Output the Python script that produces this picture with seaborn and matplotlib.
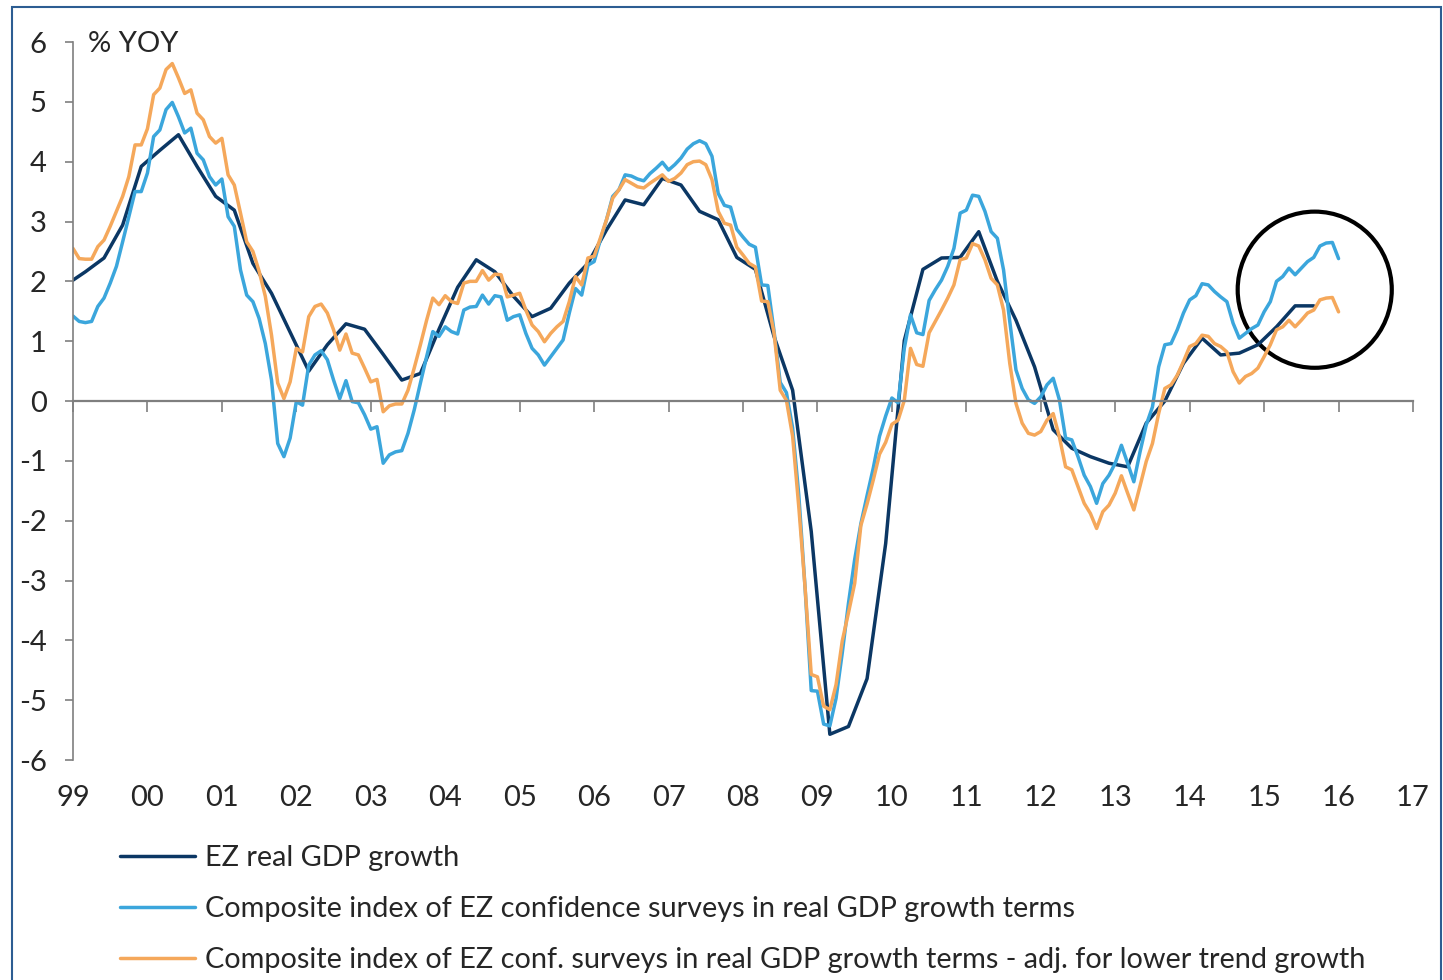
import numpy as np
import pandas as pd
import seaborn as sns
import matplotlib.pyplot as plt
from matplotlib.patches import Ellipse, Rectangle

# EZ real GDP growth, % yoy, quarterly (plotted at quarter-end month, Q4 1998 .. Q3 2015)
gdp_start = 1998 + 11 / 12
gdp_growth = [
    1.95,
    2.16, 2.39, 2.94, 3.92,
    4.19, 4.45, 3.92, 3.42,
    3.19, 2.30, 1.80, 1.15,
    0.50, 0.94, 1.29, 1.20,
    0.78, 0.35, 0.46, 1.20,
    1.90, 2.36, 2.16, 1.75,
    1.41, 1.55, 1.97, 2.30,
    2.86, 3.36, 3.28, 3.72,
    3.61, 3.17, 3.03, 2.40,
    2.20, 1.08, 0.18, -2.18,
    -5.57, -5.44, -4.64, -2.38,
    1.01, 2.20, 2.39, 2.40,
    2.83, 2.00, 1.35, 0.57,
    -0.48, -0.79, -0.93, -1.04,
    -1.10, -0.37, 0.00, 0.63,
    1.05, 0.77, 0.80, 0.94,
    1.24, 1.59, 1.59,
]

# composite survey indices, monthly Jan 1999 .. Jan 2016
survey_start = 1999.0
composite = [
    1.42, 1.33, 1.31, 1.33, 1.58, 1.72, 1.97, 2.25, 2.66, 3.08, 3.50, 3.50,
    3.81, 4.42, 4.53, 4.87, 4.99, 4.75, 4.48, 4.56, 4.14, 4.03, 3.75, 3.61,
    3.71, 3.08, 2.92, 2.19, 1.77, 1.66, 1.38, 0.96, 0.35, -0.71, -0.93, -0.62,
    -0.01, -0.07, 0.60, 0.77, 0.84, 0.69, 0.35, 0.04, 0.34, -0.01, -0.03, -0.23,
    -0.47, -0.43, -1.04, -0.90, -0.85, -0.83, -0.54, -0.15, 0.30, 0.74, 1.16, 1.08,
    1.24, 1.16, 1.12, 1.52, 1.57, 1.58, 1.77, 1.62, 1.76, 1.74, 1.35, 1.41,
    1.44, 1.13, 0.88, 0.77, 0.60, 0.74, 0.88, 1.02, 1.47, 1.88, 1.77, 2.27,
    2.33, 2.69, 3.03, 3.42, 3.53, 3.78, 3.76, 3.71, 3.68, 3.80, 3.89, 3.99,
    3.86, 3.95, 4.06, 4.21, 4.30, 4.35, 4.30, 4.09, 3.47, 3.27, 3.24, 2.87,
    2.74, 2.62, 2.57, 1.94, 1.93, 1.17, 0.31, 0.14, -0.45, -1.58, -3.11, -4.84,
    -4.85, -5.40, -5.43, -4.97, -4.21, -3.38, -2.65, -2.05, -1.58, -1.12, -0.59, -0.25,
    0.05, -0.03, 0.88, 1.44, 1.14, 1.11, 1.68, 1.86, 2.02, 2.25, 2.55, 3.14,
    3.19, 3.44, 3.42, 3.17, 2.83, 2.72, 2.19, 1.33, 0.52, 0.21, 0.02, -0.04,
    0.07, 0.27, 0.38, 0.02, -0.62, -0.65, -0.93, -1.24, -1.43, -1.71, -1.38, -1.24,
    -1.04, -0.74, -1.04, -1.35, -0.85, -0.40, -0.10, 0.57, 0.94, 0.96, 1.19, 1.47,
    1.69, 1.76, 1.96, 1.94, 1.83, 1.74, 1.66, 1.30, 1.05, 1.13, 1.21, 1.27,
    1.49, 1.66, 2.00, 2.08, 2.22, 2.11, 2.22, 2.33, 2.40, 2.59, 2.64, 2.65,
    2.38,
]
composite_adj = [
    2.55, 2.38, 2.37, 2.37, 2.58, 2.69, 2.92, 3.17, 3.42, 3.75, 4.28, 4.28,
    4.55, 5.12, 5.23, 5.54, 5.64, 5.40, 5.14, 5.20, 4.81, 4.70, 4.42, 4.31,
    4.39, 3.78, 3.61, 3.14, 2.66, 2.50, 2.17, 1.75, 1.10, 0.30, 0.04, 0.32,
    0.88, 0.82, 1.41, 1.58, 1.62, 1.47, 1.19, 0.85, 1.12, 0.80, 0.77, 0.55,
    0.32, 0.36, -0.18, -0.08, -0.05, -0.05, 0.18, 0.55, 0.94, 1.35, 1.72, 1.61,
    1.76, 1.66, 1.63, 1.97, 2.00, 2.00, 2.18, 2.02, 2.12, 2.11, 1.74, 1.77,
    1.80, 1.52, 1.27, 1.16, 0.99, 1.13, 1.24, 1.33, 1.66, 2.08, 1.94, 2.39,
    2.42, 2.72, 3.03, 3.39, 3.53, 3.70, 3.64, 3.58, 3.56, 3.64, 3.71, 3.78,
    3.67, 3.72, 3.81, 3.95, 4.00, 4.01, 3.95, 3.70, 3.17, 2.97, 2.94, 2.57,
    2.44, 2.30, 2.24, 1.67, 1.66, 1.14, 0.18, 0.01, -0.59, -1.78, -3.11, -4.57,
    -4.61, -5.10, -5.16, -4.74, -4.01, -3.54, -3.05, -2.08, -1.72, -1.32, -0.89, -0.69,
    -0.39, -0.32, 0.01, 0.88, 0.61, 0.58, 1.14, 1.33, 1.52, 1.72, 1.94, 2.36,
    2.39, 2.63, 2.59, 2.36, 2.05, 1.94, 1.52, 0.63, -0.04, -0.37, -0.54, -0.57,
    -0.51, -0.32, -0.21, -0.60, -1.10, -1.15, -1.43, -1.71, -1.88, -2.13, -1.85, -1.74,
    -1.54, -1.25, -1.54, -1.82, -1.42, -1.01, -0.71, -0.21, 0.21, 0.27, 0.43, 0.66,
    0.91, 0.96, 1.10, 1.08, 0.96, 0.91, 0.82, 0.49, 0.30, 0.41, 0.46, 0.55,
    0.74, 0.94, 1.19, 1.24, 1.35, 1.24, 1.35, 1.47, 1.52, 1.69, 1.72, 1.73,
    1.49,
]

years = list(range(1999, 2018))
year_labels = ['99', '00', '01', '02', '03', '04', '05', '06', '07', '08',
               '09', '10', '11', '12', '13', '14', '15', '16', '17']
y_ticks = list(range(-6, 7))

series_names = [
    'EZ real GDP growth',
    'Composite index of EZ confidence surveys in real GDP growth terms',
    'Composite index of EZ conf. surveys in real GDP growth terms - adj. for lower trend growth',
]
colors = ['#0b3764', '#3ba6dc', '#f5a85b']

gdp_df = pd.DataFrame({'t': gdp_start + np.arange(len(gdp_growth)) / 4,
                       'v': gdp_growth})
srv_df = pd.DataFrame({'t': survey_start + np.arange(len(composite)) / 12,
                       'comp': composite, 'adj': composite_adj})

sns.set_style('ticks')
plt.rcParams['font.family'] = ['Lato', 'DejaVu Sans']

fig = plt.figure(figsize=(14.43, 9.8), dpi=100)
ax = fig.add_axes([73 / 1443, 1 - 760 / 980, (1413 - 73) / 1443, 718 / 980])

sns.lineplot(data=gdp_df, x='t', y='v', ax=ax, color=colors[0], lw=2.5,
             label=series_names[0])
sns.lineplot(data=srv_df, x='t', y='comp', ax=ax, color=colors[1], lw=2.5,
             label=series_names[1])
sns.lineplot(data=srv_df, x='t', y='adj', ax=ax, color=colors[2], lw=2.5,
             label=series_names[2])

ax.set_xlim(1999, 2017)
ax.set_ylim(-6, 6)
ax.set_xlabel('')
ax.set_ylabel('')

grey = '#7f7f7f'
for s in ['top', 'right']:
    ax.spines[s].set_visible(False)
ax.spines['left'].set_color(grey)
ax.spines['bottom'].set_color(grey)
ax.spines['bottom'].set_position(('data', 0))
ax.spines['left'].set_linewidth(1.2)
ax.spines['bottom'].set_linewidth(1.6)

ax.set_xticks(years)
ax.tick_params(axis='x', direction='out', length=8, width=1.2, color=grey,
               labelbottom=False)
ax.set_yticks(y_ticks)
ax.set_yticklabels([str(v) for v in y_ticks])
ax.tick_params(axis='y', direction='out', length=6, width=1.2, color=grey,
               labelsize=21, pad=13)

sec = ax.secondary_xaxis('bottom')
sec.set_xticks(years, labels=year_labels)
sec.tick_params(length=0, pad=18, labelsize=21)
sec.spines['bottom'].set_visible(False)

ax.text(0.011, 0.997, '% YOY', transform=ax.transAxes, fontsize=21,
        va='center', ha='left')

ax.add_patch(Ellipse((2015.68, 1.86), width=2.07, height=2.61, fill=False,
                     ec='black', lw=3, clip_on=False))

handles, labels = ax.get_legend_handles_labels()
ax.get_legend().remove()
fig.legend(handles, labels, loc='upper left', bbox_to_anchor=(120 / 1443, 1 - 845 / 980),
           frameon=False, fontsize=20.8, handlelength=2.6, handletextpad=0.35,
           labelspacing=0.86, borderpad=0, borderaxespad=0)

fig.add_artist(Rectangle((12 / 1443, -0.05), (1441 - 12) / 1443, 1.05 - 7 / 980,
                         transform=fig.transFigure, fill=False,
                         ec='#2c5d92', lw=1.5))

fig.savefig('out.png', dpi=100)
